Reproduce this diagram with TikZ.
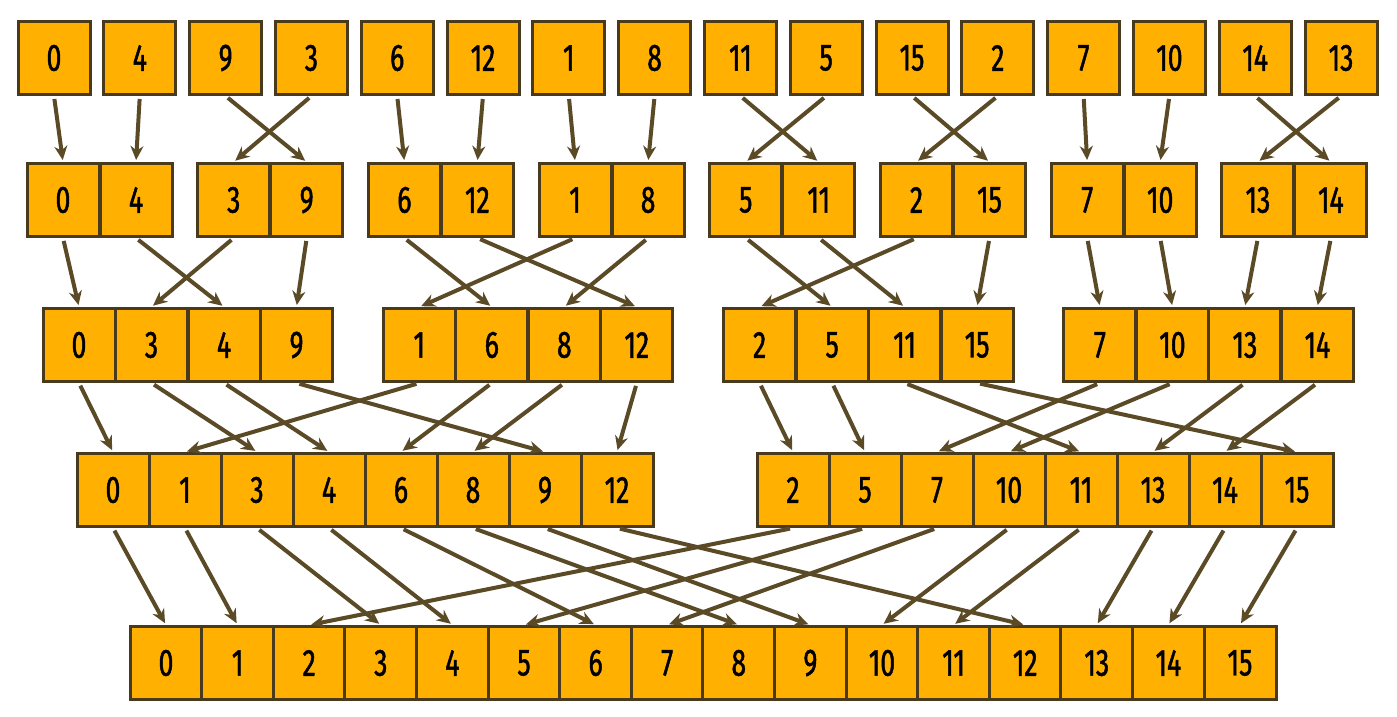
\documentclass[tikz,border=0pt]{standalone}
\usepackage{fontspec}
\setmainfont{Fira Sans}[FakeStretch=0.7,FakeBold=1.2]
\usetikzlibrary{arrows.meta}
\definecolor{boxfill}{HTML}{FFB000}
\definecolor{boxline}{HTML}{4A3A1C}
\definecolor{arr}{HTML}{5B4A26}
\begin{document}
\begin{tikzpicture}[x=1pt,y=-1pt,
  box/.style={draw=boxline,fill=boxfill,line width=3pt,minimum width=72pt,minimum height=73pt,inner sep=0pt,font=\fontsize{38}{38}\selectfont},
  conn/.style={draw=arr,line width=4pt,-{Stealth[length=14pt,width=13pt]},shorten <=3pt,shorten >=2pt}]
\useasboundingbox (0,0) rectangle (1397,717);
\foreach \v [count=\i from 0] in {0,4,9,3,6,12,1,8,11,5,15,2,7,10,14,13}
  \node[box] (a\v) at ({54+85.8*\i},58) {\v};
\foreach \v [count=\i from 0, evaluate=\i as \x using {63+170.7*int(\i/2)+73*mod(\i,2)}] in {0,4,3,9,6,12,1,8,5,11,2,15,7,10,13,14}
  \node[box] (b\v) at (\x,200) {\v};
\foreach \v [count=\i from 0, evaluate=\i as \x using {79+340.3*int(\i/4)+72.5*mod(\i,4)}] in {0,3,4,9,1,6,8,12,2,5,11,15,7,10,13,14}
  \node[box] (c\v) at (\x,345) {\v};
\foreach \v [count=\i from 0, evaluate=\i as \x using {113+680*int(\i/8)+72*mod(\i,8)}] in {0,1,3,4,6,8,9,12,2,5,7,10,11,13,14,15}
  \node[box] (d\v) at (\x,490) {\v};
\foreach \v [count=\i from 0] in {0,...,15}
  \node[box] (e\v) at ({166+71.6*\i},663) {\v};
\foreach \v in {0,...,15}{
  \draw[conn] (a\v.south) -- (b\v.north);
  \draw[conn] (b\v.south) -- (c\v.north);
  \draw[conn] (c\v.south) -- (d\v.north);
  \draw[conn] (d\v.south) -- (e\v.north);
}
\end{tikzpicture}
\end{document}
